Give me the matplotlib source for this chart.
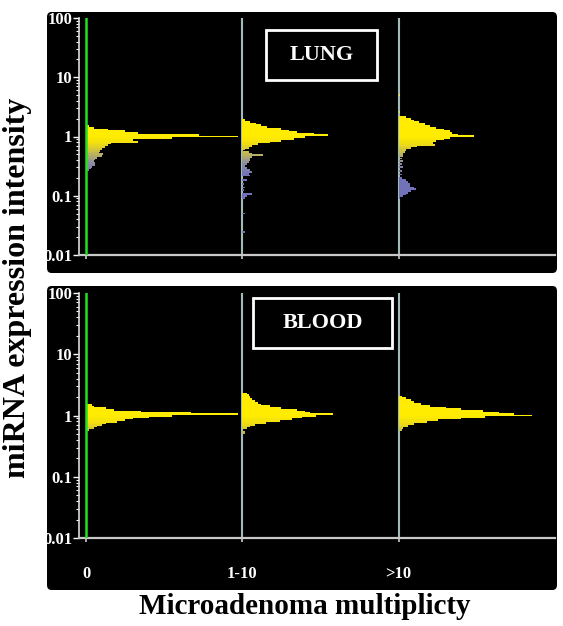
import numpy as np
from matplotlib import pyplot as plt
from matplotlib.patches import FancyBboxPatch, Rectangle
from matplotlib.colors import LinearSegmentedColormap, Normalize

# x groups (microadenoma multiplicity)
groups = ['0', '1-10', '>10']

# each histogram: log10(miRNA intensity) of a bin and its bar length
lung_0_log = [-0.57, -0.54, -0.51, -0.48, -0.45, -0.42, -0.39, -0.36, -0.33, -0.30,
              -0.27, -0.24, -0.21, -0.18, -0.15, -0.12, -0.09, -0.06, -0.03, 0.00,
              0.03, 0.06, 0.09, 0.12, 0.15, 0.18]
lung_0_len = [0.02, 0.03, 0.04, 0.06, 0.06, 0.05, 0.06, 0.07, 0.10, 0.11,
              0.08, 0.09, 0.10, 0.12, 0.14, 0.16, 0.33, 0.30, 0.55, 0.97,
              0.72, 0.33, 0.25, 0.14, 0.05, 0.02]

lung_1_log = [-1.61, -1.30, -1.04, -1.00, -0.97, -0.90, -0.86, -0.80, -0.73, -0.66,
              -0.63, -0.60, -0.56, -0.53, -0.50, -0.46, -0.43, -0.40, -0.37, -0.34,
              -0.31, -0.29, -0.26, -0.22, -0.19, -0.16, -0.13, -0.10, -0.07, -0.04,
              -0.01, 0.02, 0.04, 0.07, 0.10, 0.13, 0.16, 0.19, 0.22, 0.25, 0.28]
lung_1_len = [0.02, 0.02, 0.02, 0.03, 0.06, 0.01, 0.02, 0.01, 0.03, 0.05,
              0.04, 0.06, 0.05, 0.03, 0.02, 0.03, 0.04, 0.05, 0.05, 0.06,
              0.13, 0.06, 0.04, 0.02, 0.04, 0.06, 0.10, 0.18, 0.25, 0.33,
              0.40, 0.55, 0.46, 0.35, 0.30, 0.25, 0.16, 0.12, 0.09, 0.05, 0.02]

lung_2_log = [-1.04, -1.01, -0.98, -0.95, -0.92, -0.89, -0.86, -0.83, -0.80, -0.77,
              -0.74, -0.70, -0.64, -0.58, -0.52, -0.47, -0.42, -0.37, -0.33, -0.29,
              -0.26, -0.23, -0.20, -0.17, -0.14, -0.11, -0.08, -0.05, -0.02, 0.01,
              0.03, 0.06, 0.09, 0.12, 0.15, 0.18, 0.21, 0.24, 0.27, 0.30,
              0.33, 0.42, 0.70]
lung_2_len = [0.01, 0.03, 0.05, 0.06, 0.08, 0.11, 0.10, 0.07, 0.07, 0.06,
              0.05, 0.02, 0.02, 0.02, 0.03, 0.02, 0.03, 0.02, 0.03, 0.03,
              0.04, 0.05, 0.08, 0.12, 0.23, 0.22, 0.24, 0.29, 0.33, 0.48,
              0.38, 0.34, 0.33, 0.29, 0.24, 0.20, 0.17, 0.13, 0.10, 0.08,
              0.05, 0.01, 0.01]

blood_0_log = [-0.24, -0.21, -0.18, -0.16, -0.13, -0.10, -0.07, -0.05, -0.03, -0.01,
               0.02, 0.04, 0.06, 0.09, 0.12, 0.14, 0.17]
blood_0_len = [0.02, 0.05, 0.07, 0.10, 0.13, 0.20, 0.25, 0.30, 0.40, 0.55,
               0.97, 0.67, 0.35, 0.18, 0.13, 0.05, 0.04]

blood_1_log = [-0.29, -0.26, -0.21, -0.18, -0.15, -0.12, -0.09, -0.06, -0.03, -0.01,
               0.02, 0.04, 0.06, 0.09, 0.12, 0.15, 0.18, 0.21, 0.24, 0.27,
               0.30, 0.33, 0.36]
blood_1_len = [0.02, 0.02, 0.03, 0.05, 0.08, 0.15, 0.24, 0.32, 0.38, 0.47,
               0.58, 0.43, 0.40, 0.35, 0.25, 0.18, 0.12, 0.10, 0.08, 0.06,
               0.05, 0.04, 0.03]

blood_2_log = [-0.24, -0.20, -0.17, -0.14, -0.11, -0.08, -0.05, -0.03, 0.00, 0.03,
               0.05, 0.07, 0.10, 0.13, 0.16, 0.19, 0.22, 0.25, 0.28, 0.31]
blood_2_len = [0.02, 0.03, 0.06, 0.10, 0.18, 0.25, 0.40, 0.55, 0.85, 0.74,
               0.64, 0.54, 0.40, 0.30, 0.20, 0.14, 0.10, 0.08, 0.05, 0.02]

W, H = 563, 626
serif = 'Liberation Serif'
step = 0.03

# bar colour follows intensity: blue/grey at low values, yellow around 1
bar_cmap = LinearSegmentedColormap.from_list(
    'mirna', [(0.0, '#7272b8'), (0.3, '#8c8ca2'), (0.55, '#bcb45a'),
              (0.8, '#f0dc12'), (1.0, '#ffec00')])
bar_norm = Normalize(vmin=-0.65, vmax=0.0, clip=True)


def fig_rect(x0, y0, x1, y1):
    # pixel box (top-left origin) -> figure fraction
    return x0 / W, 1 - y1 / H, (x1 - x0) / W, (y1 - y0) / H


def hist_panel(ax, logs_list, lens_list, show_labels):
    ax.set_facecolor('black')
    ax.set_yscale('log')
    for pos in range(len(logs_list)):
        logs = np.array(logs_list[pos])
        lo = 10 ** (logs - step / 2)
        hi = 10 ** (logs + step / 2)
        ax.barh(lo, lens_list[pos], height=hi - lo, left=pos, align='edge',
                color=bar_cmap(bar_norm(logs)), linewidth=0, zorder=2)
    ax.axvline(0, color='#22e022', lw=1.8, zorder=3)
    ax.axvline(1, color='#a3baba', lw=1.5, zorder=1)
    ax.axvline(2, color='#a3baba', lw=1.5, zorder=1)
    ax.set_ylim(0.01, 100)
    ax.set_xlim(-0.045, 3.0)

    ax.spines['top'].set_visible(False)
    ax.spines['right'].set_visible(False)
    ax.spines['left'].set_color('#dddddd')
    ax.spines['left'].set_linewidth(1.2)
    ax.spines['bottom'].set_color('#c8c8c8')
    ax.spines['bottom'].set_linewidth(1.6)

    ax.set_yticks([0.01, 0.1, 1, 10, 100])
    ax.set_yticklabels(['0.01', '0.1', '1', '10', '100'],
                       fontfamily=serif, fontweight='bold')
    ax.tick_params(axis='y', which='major', length=4, width=1, color='white',
                   labelcolor='white', labelsize=12, pad=1)
    ax.tick_params(axis='y', which='minor', length=2, width=0.8, color='white')

    ax.set_xticks([0, 1, 2])
    if show_labels:
        ax.set_xticklabels(groups, fontfamily=serif, fontweight='bold')
    else:
        ax.set_xticklabels(['', '', ''])
    ax.tick_params(axis='x', length=3, width=1.2, color='#c8c8c8',
                   labelcolor='white', labelsize=12, pad=17)


fig = plt.figure(figsize=(W / 100, H / 100), dpi=100)
fig.patch.set_facecolor('white')

# black rounded backgrounds of the two panels
for box in [(47, 12, 557, 273), (47, 286, 557, 590)]:
    x, y, w, h = fig_rect(*box)
    fig.add_artist(FancyBboxPatch((x, y), w, h, boxstyle='round,pad=0,rounding_size=0.008',
                                  transform=fig.transFigure, fc='black', ec='none', zorder=-1))

ax1 = fig.add_axes(fig_rect(79, 18, 555, 255))
ax2 = fig.add_axes(fig_rect(79, 293, 555, 538))

hist_panel(ax1, [lung_0_log, lung_1_log, lung_2_log],
           [lung_0_len, lung_1_len, lung_2_len], False)
hist_panel(ax2, [blood_0_log, blood_1_log, blood_2_log],
           [blood_0_len, blood_1_len, blood_2_len], True)

# tissue boxes
for (x0, y0, x1, y1), name in [((266, 30, 377, 80), 'LUNG'), ((253, 298, 392, 348), 'BLOOD')]:
    x, y, w, h = fig_rect(x0, y0, x1, y1)
    fig.add_artist(Rectangle((x, y), w, h, transform=fig.transFigure,
                             fc='black', ec='white', lw=2, zorder=5))
    fig.text(x + w / 2, y + h / 2, name, color='white', fontsize=16, fontweight='bold',
             fontfamily=serif, ha='center', va='center', zorder=6)

fig.text(18 / W, 1 - 288 / H, 'miRNA expression intensity', rotation=90,
         fontsize=23, fontweight='bold', fontfamily=serif, ha='center', va='center')
fig.text(305 / W, 1 - 606 / H, 'Microadenoma multiplicty',
         fontsize=21, fontweight='bold', fontfamily=serif, ha='center', va='center')

fig.savefig('out.png', dpi=100)
